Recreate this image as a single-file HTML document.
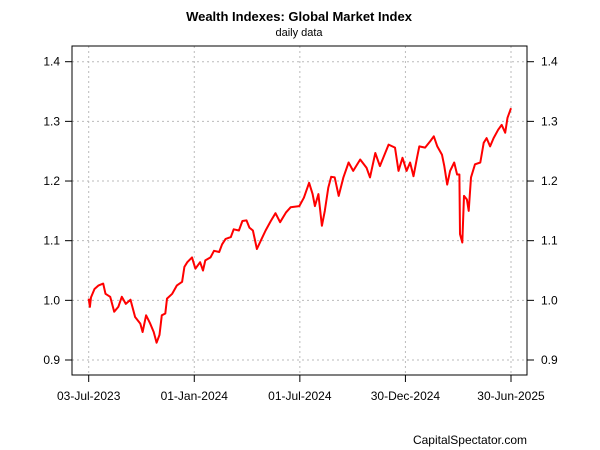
<!DOCTYPE html>
<html><head><meta charset="utf-8"><style>
html,body{margin:0;padding:0;background:#fff;}
svg{display:block;font-family:"Liberation Sans",Arial,sans-serif;}
</style></head><body>
<svg id="chart" width="600" height="450">
<text x="299" y="21" text-anchor="middle" font-size="13" font-weight="bold">Wealth Indexes: Global Market Index</text>
<text x="299" y="36" text-anchor="middle" font-size="11">daily data</text>
<text x="527" y="444" text-anchor="end" font-size="12">CapitalSpectator.com</text>
<g id="grid"></g>
<g id="axes"></g>
<g id="series"></g>
<rect x="72" y="46" width="455" height="329" fill="none" stroke="#000" stroke-width="1"/>
</svg>
<script>
const days = [0,2,4,10,17,25,29,37,44,51,57,64,72,80,89,93,99,106,112,117,122,126,132,135,144,152,161,165,170,178,184,192,197,201,210,216,225,230,236,245,250,259,265,272,277,283,290,298,305,314,322,330,340,348,363,371,380,386,390,396,402,407,413,418,424,431,439,448,456,468,479,485,494,502,517,528,534,541,548,554,560,566,570,580,589,595,601,609,613,618,623,630,635,639,640,644,647,652,655,659,666,675,681,686,692,698,706,712,718,722,728];
const values = [1.003,0.989,1.005,1.019,1.025,1.028,1.011,1.006,0.981,0.989,1.006,0.994,1.001,0.972,0.961,0.947,0.975,0.961,0.947,0.929,0.942,0.975,0.978,1.003,1.011,1.025,1.031,1.056,1.064,1.072,1.053,1.064,1.050,1.067,1.072,1.083,1.081,1.094,1.103,1.106,1.119,1.117,1.133,1.134,1.122,1.117,1.086,1.103,1.117,1.133,1.146,1.131,1.147,1.156,1.158,1.172,1.197,1.178,1.158,1.178,1.125,1.150,1.189,1.207,1.206,1.175,1.206,1.231,1.217,1.236,1.222,1.206,1.247,1.225,1.261,1.256,1.217,1.239,1.217,1.231,1.208,1.239,1.258,1.256,1.267,1.275,1.258,1.244,1.225,1.194,1.217,1.231,1.211,1.211,1.111,1.097,1.175,1.169,1.150,1.206,1.228,1.231,1.264,1.272,1.258,1.272,1.286,1.294,1.281,1.306,1.322];
const yTicks = [0.9,1.0,1.1,1.2,1.3,1.4];
const yTickLabels = ["0.9","1.0","1.1","1.2","1.3","1.4"];
const xTickDays = [0,182,364,546,728];
const xTickLabels = ["03-Jul-2023","01-Jan-2024","01-Jul-2024","30-Dec-2024","30-Jun-2025"];

const NS="http://www.w3.org/2000/svg";
function xs(d){return 88.7+d*(511-88.7)/728;}
function ys(v){return 360-(v-0.9)*(360-61.7)/0.5;}
function mk(tag,attrs,parent){const e=document.createElementNS(NS,tag);for(const k in attrs)e.setAttribute(k,attrs[k]);parent.appendChild(e);return e;}
const grid=document.getElementById('grid'),axes=document.getElementById('axes'),series=document.getElementById('series');
yTicks.forEach((v,i)=>{
  const y=ys(v);
  const g=mk('line',{x1:72,x2:527,y1:y,y2:y,stroke:'#bbb','stroke-dasharray':'2,3'},grid);
  
  
  const t1=mk('line',{x1:65,x2:72,y1:y,y2:y,stroke:'#000'},axes);
  
  
  const t2=mk('line',{x1:527,x2:534,y1:y,y2:y,stroke:'#000'},axes);
  
  
  const l1=mk('text',{x:60,y:y+4,'text-anchor':'end','font-size':12},axes);l1.textContent=yTickLabels[i];
  
  
  const l2=mk('text',{x:541,y:y+4,'text-anchor':'start','font-size':12},axes);l2.textContent=yTickLabels[i];
  
  
});
xTickDays.forEach((d,i)=>{
  const x=xs(d);
  const g=mk('line',{x1:x,x2:x,y1:46,y2:375,stroke:'#bbb','stroke-dasharray':'2,3'},grid);
  
  
  const t=mk('line',{x1:x,x2:x,y1:375,y2:382,stroke:'#000'},axes);
  
  
  const l=mk('text',{x:x,y:400,'text-anchor':'middle','font-size':12},axes);l.textContent=xTickLabels[i];
  
  
});
const pts=days.map((d,i)=>xs(d).toFixed(1)+','+ys(values[i]).toFixed(1)).join(' ');
const line=mk('polyline',{points:pts,fill:'none',stroke:'#ff0000','stroke-width':2,'stroke-linejoin':'round'},series);


</script>
</body></html>
